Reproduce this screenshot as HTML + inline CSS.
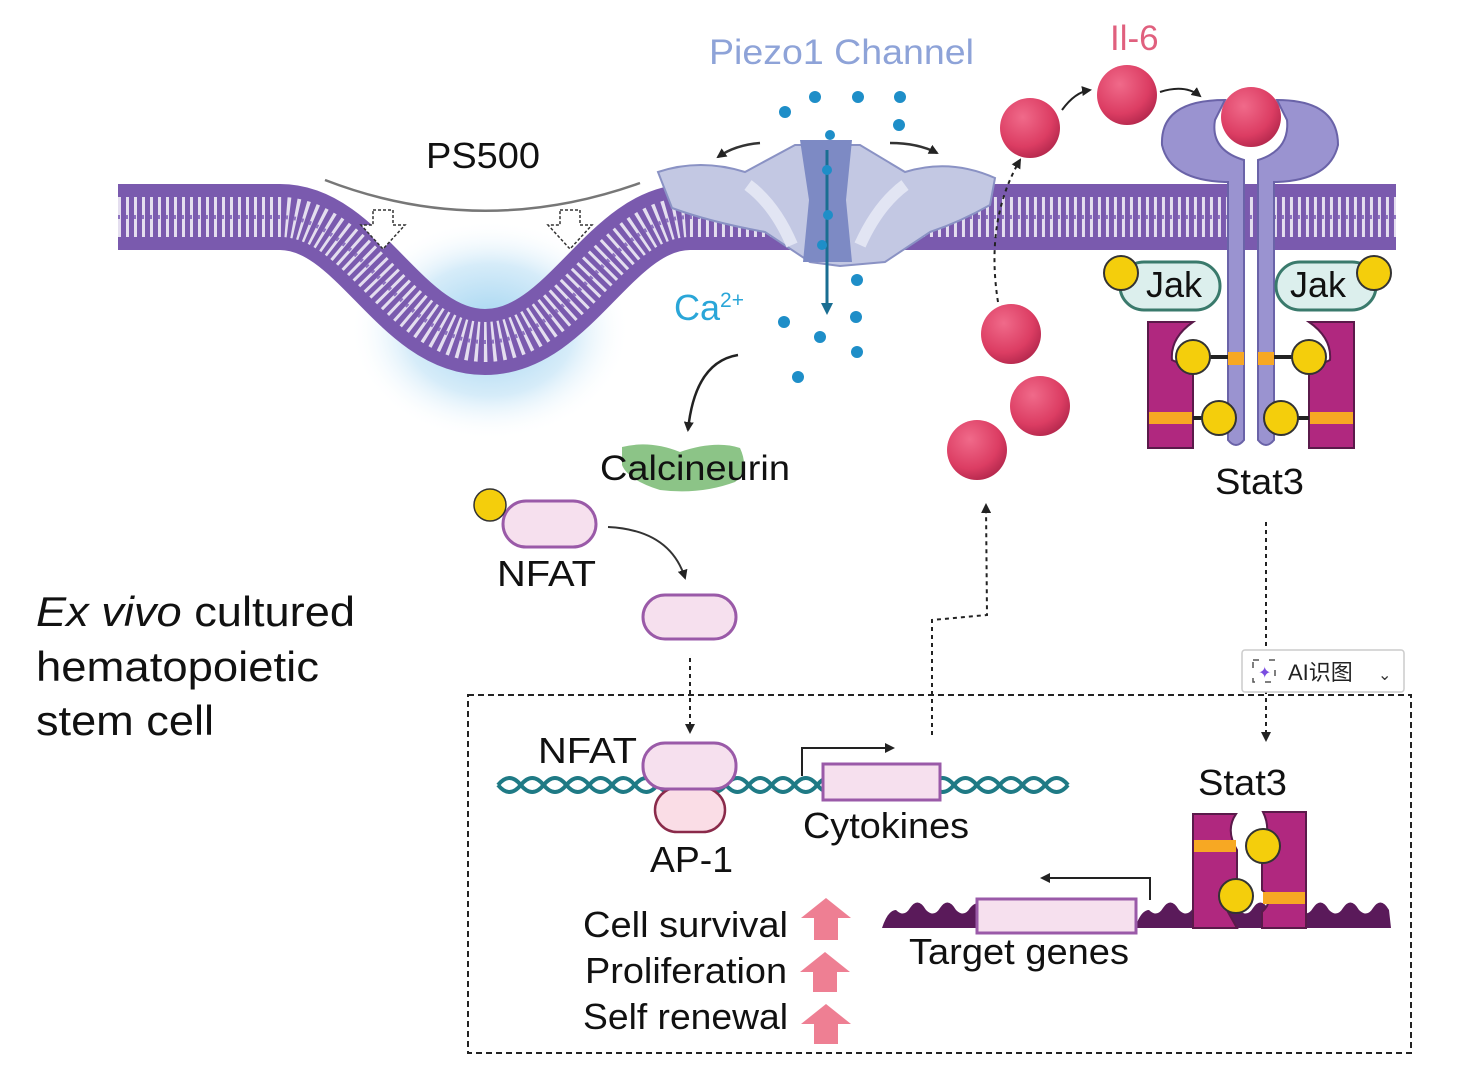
<!DOCTYPE html>
<html><head><meta charset="utf-8"><style>
html,body{margin:0;padding:0;background:#fff;}
svg{display:block;font-family:"Liberation Sans",Arial,sans-serif;}
</style></head><body>
<svg width="1457" height="1088" viewBox="0 0 1457 1088" xmlns="http://www.w3.org/2000/svg">
<defs>
<radialGradient id="glow" cx="0.5" cy="0.5" r="0.5">
<stop offset="0" stop-color="#9fd3f0"/><stop offset="0.6" stop-color="#d6ecf9"/><stop offset="1" stop-color="#fff" stop-opacity="0"/>
</radialGradient>
<radialGradient id="ball" cx="0.38" cy="0.32" r="0.7">
<stop offset="0" stop-color="#f06a8a"/><stop offset="0.7" stop-color="#dc3d63"/><stop offset="1" stop-color="#b82a4f"/>
</radialGradient>
<marker id="ah" markerWidth="10" markerHeight="10" refX="8" refY="5" orient="auto" markerUnits="userSpaceOnUse"><path d="M0,0 L10,5 L0,10 z" fill="#222"/></marker>
<marker id="ahb" markerWidth="12" markerHeight="12" refX="9" refY="6" orient="auto" markerUnits="userSpaceOnUse"><path d="M0,0 L12,6 L0,12 z" fill="#1a6e92"/></marker>
</defs>

<ellipse cx="490" cy="330" rx="140" ry="110" fill="url(#glow)"/>

<g fill="none">
<path d="M118,217 L280,217 C360,217 400,342 485,342 C570,342 610,217 690,217 L1396,217" stroke="#7a5aae" stroke-width="66"/>
<path d="M118,217 L280,217 C360,217 400,342 485,342 C570,342 610,217 690,217 L1396,217" stroke="#fff" stroke-width="40" stroke-dasharray="3 5" opacity="0.8"/>
<path d="M118,217 L280,217 C360,217 400,342 485,342 C570,342 610,217 690,217 L1396,217" stroke="#8d72bf" stroke-width="4" stroke-dasharray="2 6"/>
</g>

<text x="426" y="168" font-size="36" fill="#111" textLength="114" lengthAdjust="spacingAndGlyphs">PS500</text>
<path d="M325,180 Q480,240 640,183" stroke="#777" stroke-width="2.5" fill="none"/>
<g fill="#fff" stroke="#333" stroke-width="1.5" stroke-dasharray="3 2">
<path d="M373,210 h20 v15 h12 l-22,24 l-22,-24 h12z"/>
<path d="M560,210 h20 v15 h12 l-22,24 l-22,-24 h12z"/>
</g>

<!-- Piezo channel -->
<path d="M658,172 Q700,158 745,172 L795,145 L860,145 L905,172 Q950,158 995,178 L990,205 Q960,222 930,232 L885,262 L840,266 L810,262 L765,232 Q710,222 672,208 Z" fill="#c3c8e3" stroke="#8a92c4" stroke-width="2"/>
<path d="M748,185 Q775,205 792,245 M905,185 Q878,205 860,245" stroke="#e2e5f3" stroke-width="12" fill="none"/>
<path d="M800,140 L852,140 L846,200 L852,262 L803,262 L809,200 Z" fill="#7d8ac4"/>
<line x1="827" y1="150" x2="827" y2="312" stroke="#1a6e92" stroke-width="3" marker-end="url(#ahb)"/>
<path d="M760,143 Q735,145 718,157" stroke="#333" stroke-width="2.5" fill="none" marker-end="url(#ah)"/>
<path d="M890,143 Q918,143 937,153" stroke="#333" stroke-width="2.5" fill="none" marker-end="url(#ah)"/>
<text x="709" y="64" font-size="35" fill="#8ea3d8" textLength="265" lengthAdjust="spacingAndGlyphs">Piezo1 Channel</text>
<g fill="#1e8ec8">
<circle cx="785" cy="112" r="6"/><circle cx="815" cy="97" r="6"/><circle cx="858" cy="97" r="6"/><circle cx="900" cy="97" r="6"/><circle cx="899" cy="125" r="6"/>
<circle cx="830" cy="135" r="5"/><circle cx="827" cy="170" r="5"/><circle cx="828" cy="215" r="5"/><circle cx="822" cy="245" r="5"/>
<circle cx="857" cy="280" r="6"/><circle cx="856" cy="317" r="6"/><circle cx="784" cy="322" r="6"/><circle cx="820" cy="337" r="6"/><circle cx="857" cy="352" r="6"/><circle cx="798" cy="377" r="6"/>
</g>
<text x="674" y="320" font-size="36" fill="#2aa6d8">Ca<tspan font-size="21" dy="-13">2+</tspan></text>
<path d="M738,355 Q695,362 688,430" stroke="#222" stroke-width="2.5" fill="none" marker-end="url(#ah)"/>

<path d="M622,447 Q650,440 680,452 Q715,440 740,448 Q750,470 735,482 Q700,495 660,490 Q628,480 622,465 Z" fill="#8cc487"/>
<text x="600" y="480" font-size="35" fill="#111" textLength="190" lengthAdjust="spacingAndGlyphs">Calcineurin</text>

<rect x="503" y="501" width="93" height="46" rx="23" fill="#f6e0ee" stroke="#9a5aa8" stroke-width="3"/>
<circle cx="490" cy="505" r="16" fill="#f4ce0c" stroke="#333" stroke-width="1.5"/>
<text x="497" y="586" font-size="36" fill="#111" textLength="99" lengthAdjust="spacingAndGlyphs">NFAT</text>
<path d="M608,527 Q670,530 685,578" stroke="#333" stroke-width="2" fill="none" marker-end="url(#ah)"/>
<rect x="643" y="595" width="93" height="44" rx="22" fill="#f6e0ee" stroke="#9a5aa8" stroke-width="3"/>
<line x1="690" y1="658" x2="690" y2="732" stroke="#222" stroke-width="2" stroke-dasharray="4 4" marker-end="url(#ah)"/>

<text x="36" y="626" font-size="42" fill="#111" textLength="319" lengthAdjust="spacingAndGlyphs"><tspan font-style="italic">Ex vivo</tspan> cultured</text>
<text x="36" y="681" font-size="42" fill="#111" textLength="283" lengthAdjust="spacingAndGlyphs">hematopoietic</text>
<text x="36" y="735" font-size="42" fill="#111" textLength="178" lengthAdjust="spacingAndGlyphs">stem cell</text>

<text x="1110" y="50" font-size="35" fill="#e0607e">Il-6</text>
<circle cx="1030" cy="128" r="30" fill="url(#ball)"/>
<circle cx="1127" cy="95" r="30" fill="url(#ball)"/>
<circle cx="1011" cy="334" r="30" fill="url(#ball)"/>
<circle cx="1040" cy="406" r="30" fill="url(#ball)"/>
<circle cx="977" cy="450" r="30" fill="url(#ball)"/>
<path d="M1062,110 Q1075,92 1090,90" stroke="#222" stroke-width="2" fill="none" marker-end="url(#ah)"/>
<path d="M1160,92 Q1185,84 1200,96" stroke="#222" stroke-width="2" fill="none" marker-end="url(#ah)"/>
<path d="M998,302 Q985,220 1020,160" stroke="#222" stroke-width="2" fill="none" stroke-dasharray="4 4" marker-end="url(#ah)"/>

<g fill="#9a93d0" stroke="#6a63a8" stroke-width="2">
<path d="M1225,100 Q1160,100 1162,145 Q1170,180 1225,182 L1228,182 L1228,440 Q1236,450 1244,440 L1244,160 Q1210,150 1215,120 Z"/>
<path d="M1277,100 Q1338,100 1338,145 Q1330,180 1277,182 L1274,182 L1274,440 Q1266,450 1258,440 L1258,160 Q1290,150 1287,120 Z"/>
</g>
<circle cx="1251" cy="117" r="30" fill="url(#ball)"/>
<rect x="1228" y="352" width="16" height="13" fill="#f7a823"/><rect x="1258" y="352" width="16" height="13" fill="#f7a823"/>

<rect x="1120" y="262" width="100" height="48" rx="24" fill="#dcefed" stroke="#3a7a6c" stroke-width="3"/>
<rect x="1276" y="262" width="100" height="48" rx="24" fill="#dcefed" stroke="#3a7a6c" stroke-width="3"/>
<circle cx="1121" cy="273" r="17" fill="#f4ce0c" stroke="#333" stroke-width="2"/>
<circle cx="1374" cy="273" r="17" fill="#f4ce0c" stroke="#333" stroke-width="2"/>
<text x="1146" y="297" font-size="36" fill="#111">Jak</text>
<text x="1290" y="297" font-size="36" fill="#111">Jak</text>

<path d="M1148,322 L1193,322 Q1170,338 1172,360 L1193,370 L1193,448 L1148,448 Z" fill="#b0287f" stroke="#5a1a4a" stroke-width="2"/>
<path d="M1354,322 L1309,322 Q1332,338 1330,360 L1309,370 L1309,448 L1354,448 Z" fill="#b0287f" stroke="#5a1a4a" stroke-width="2"/>
<rect x="1149" y="412" width="43" height="12" fill="#f7a823"/><rect x="1310" y="412" width="43" height="12" fill="#f7a823"/>
<line x1="1193" y1="357" x2="1228" y2="357" stroke="#222" stroke-width="4"/>
<line x1="1274" y1="357" x2="1309" y2="357" stroke="#222" stroke-width="4"/>
<line x1="1193" y1="418" x2="1220" y2="418" stroke="#222" stroke-width="4"/>
<line x1="1282" y1="418" x2="1309" y2="418" stroke="#222" stroke-width="4"/>
<circle cx="1193" cy="357" r="17" fill="#f4ce0c" stroke="#333" stroke-width="2"/>
<circle cx="1309" cy="357" r="17" fill="#f4ce0c" stroke="#333" stroke-width="2"/>
<circle cx="1219" cy="418" r="17" fill="#f4ce0c" stroke="#333" stroke-width="2"/>
<circle cx="1281" cy="418" r="17" fill="#f4ce0c" stroke="#333" stroke-width="2"/>
<text x="1215" y="494" font-size="36" fill="#111" textLength="89" lengthAdjust="spacingAndGlyphs">Stat3</text>

<line x1="1266" y1="522" x2="1266" y2="740" stroke="#222" stroke-width="2" stroke-dasharray="4 4" marker-end="url(#ah)"/>
<path d="M932,735 L932,620 L987,615 L986,505" stroke="#222" stroke-width="2" stroke-dasharray="4 4" fill="none" marker-end="url(#ah)"/>

<rect x="1242" y="650" width="162" height="42" rx="3" fill="#fff" stroke="#ccc" stroke-width="1.5"/>
<rect x="1253" y="660" width="22" height="22" fill="none" stroke="#555" stroke-width="1.5" stroke-dasharray="6 10"/>
<text x="1258" y="678" font-size="16" fill="#7a4de0">✦</text>
<text x="1288" y="680" font-size="22" fill="#222" font-family="Liberation Sans,'Noto Sans CJK SC',sans-serif">AI识图</text>
<text x="1378" y="680" font-size="16" fill="#333">⌄</text>

<rect x="468" y="695" width="943" height="358" fill="none" stroke="#222" stroke-width="2" stroke-dasharray="6 4"/>

<g fill="none" stroke="#1f7a85" stroke-width="4">
<path d="M498,785 q11.4,-14 22.8,0 t22.8,0 t22.8,0 t22.8,0 t22.8,0 t22.8,0 t22.8,0 t22.8,0 t22.8,0 t22.8,0 t22.8,0 t22.8,0 t22.8,0 t22.8,0 t22.8,0 t22.8,0 t22.8,0 t22.8,0 t22.8,0 t22.8,0 t22.8,0 t22.8,0 t22.8,0 t22.8,0 t22.8,0"/>
<path d="M498,785 q11.4,14 22.8,0 t22.8,0 t22.8,0 t22.8,0 t22.8,0 t22.8,0 t22.8,0 t22.8,0 t22.8,0 t22.8,0 t22.8,0 t22.8,0 t22.8,0 t22.8,0 t22.8,0 t22.8,0 t22.8,0 t22.8,0 t22.8,0 t22.8,0 t22.8,0 t22.8,0 t22.8,0 t22.8,0 t22.8,0"/>
</g>
<rect x="655" y="788" width="70" height="44" rx="22" fill="#fadde6" stroke="#8a2a4a" stroke-width="2.5"/>
<rect x="643" y="743" width="93" height="46" rx="22" fill="#f6e0ee" stroke="#9a5aa8" stroke-width="3"/>
<text x="538" y="763" font-size="36" fill="#111" textLength="99" lengthAdjust="spacingAndGlyphs">NFAT</text>
<text x="650" y="872" font-size="36" fill="#111" textLength="83" lengthAdjust="spacingAndGlyphs">AP-1</text>
<rect x="823" y="764" width="117" height="36" fill="#f6e0ee" stroke="#9a5aa8" stroke-width="3"/>
<path d="M802,776 L802,748 L893,748" stroke="#222" stroke-width="2" fill="none" marker-end="url(#ah)"/>
<text x="803" y="838" font-size="36" fill="#111" textLength="166" lengthAdjust="spacingAndGlyphs">Cytokines</text>

<g fill="#5a1a5a">
<path d="M882,928 q6,-18 14,-18 q8,8 14,-2 q8,-12 16,2 q8,8 14,-2 q8,-12 16,2 q8,8 14,-2 q8,-10 14,2 l0,18 z"/>
<path d="M1135,928 q6,-18 14,-18 q8,8 14,-2 q8,-12 16,2 q8,8 14,-2 q8,-12 16,2 q8,8 14,-2 q8,-12 16,2 q8,8 14,-2 q8,-12 16,2 q8,8 14,-2 q8,-12 16,2 q8,8 14,-2 q8,-12 16,2 q8,8 14,-2 q8,-12 16,2 q8,8 14,-2 q8,-12 16,2 l2,18 z"/>
</g>
<rect x="977" y="899" width="159" height="34" fill="#f6e0ee" stroke="#9a5aa8" stroke-width="3"/>
<path d="M1150,900 L1150,878 L1042,878" stroke="#222" stroke-width="2" fill="none" marker-end="url(#ah)"/>
<text x="909" y="964" font-size="36" fill="#111" textLength="220" lengthAdjust="spacingAndGlyphs">Target genes</text>

<text x="1198" y="795" font-size="36" fill="#111" textLength="89" lengthAdjust="spacingAndGlyphs">Stat3</text>
<path d="M1193,814 L1236,814 Q1225,830 1237,850 L1237,890 Q1222,900 1228,912 L1237,928 L1193,928 Z" fill="#b0287f" stroke="#5a1a4a" stroke-width="2"/>
<path d="M1306,812 L1263,812 Q1272,830 1262,850 L1262,890 Q1275,900 1262,912 L1262,928 L1306,928 Z" fill="#b0287f" stroke="#5a1a4a" stroke-width="2"/>
<rect x="1194" y="840" width="42" height="12" fill="#f7a823"/><rect x="1263" y="892" width="42" height="12" fill="#f7a823"/>
<circle cx="1263" cy="846" r="17" fill="#f4ce0c" stroke="#333" stroke-width="2"/>
<circle cx="1236" cy="896" r="17" fill="#f4ce0c" stroke="#333" stroke-width="2"/>

<text x="583" y="937" font-size="36" fill="#111" textLength="205" lengthAdjust="spacingAndGlyphs">Cell survival</text>
<text x="585" y="983" font-size="36" fill="#111" textLength="202" lengthAdjust="spacingAndGlyphs">Proliferation</text>
<text x="583" y="1029" font-size="36" fill="#111" textLength="205" lengthAdjust="spacingAndGlyphs">Self renewal</text>
<g fill="#ee7f93">
<path d="M826,898 L851,918 L838,918 L838,940 L814,940 L814,918 L801,918 Z"/>
<path d="M825,952 L850,972 L837,972 L837,992 L813,992 L813,972 L800,972 Z"/>
<path d="M826,1004 L851,1024 L838,1024 L838,1044 L814,1044 L814,1024 L801,1024 Z"/>
</g>
</svg>
</body></html>
